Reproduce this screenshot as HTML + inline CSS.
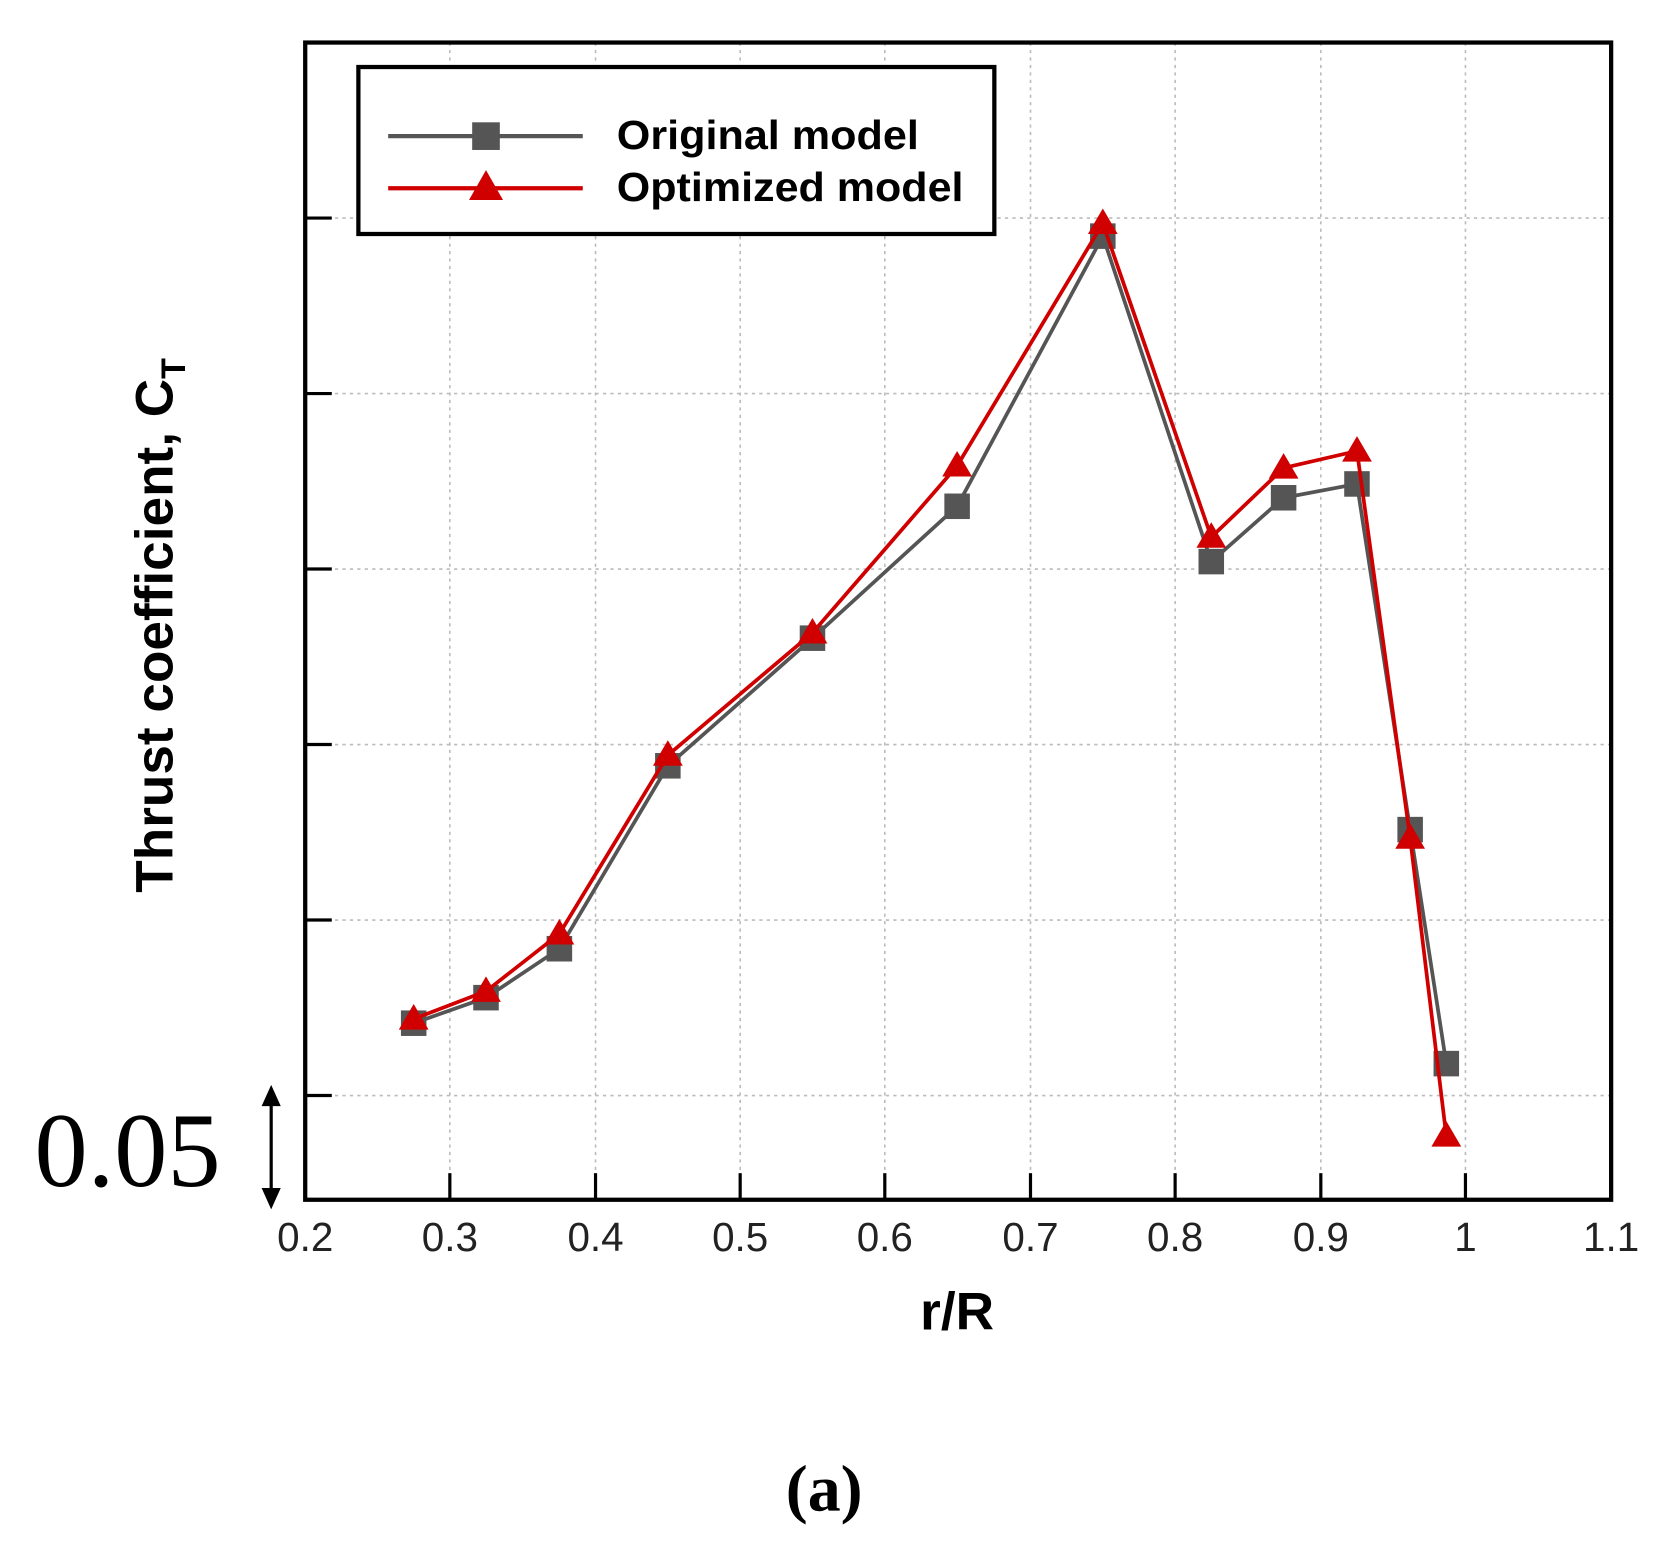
<!DOCTYPE html>
<html><head><meta charset="utf-8"><style>
html,body{margin:0;padding:0;background:#fff;}
svg{display:block;}
</style></head><body>
<svg width="1659" height="1555" viewBox="0 0 1560 1462" preserveAspectRatio="none" xmlns="http://www.w3.org/2000/svg">
<rect width="1560" height="1462" fill="#fff"/>
<g stroke="#bbb" stroke-width="1.5" stroke-dasharray="3,4">
<line x1="423" y1="40" x2="423" y2="1128"/><line x1="560" y1="40" x2="560" y2="1128"/>
<line x1="696" y1="40" x2="696" y2="1128"/><line x1="832" y1="40" x2="832" y2="1128"/>
<line x1="969" y1="40" x2="969" y2="1128"/><line x1="1105" y1="40" x2="1105" y2="1128"/>
<line x1="1242" y1="40" x2="1242" y2="1128"/><line x1="1378" y1="40" x2="1378" y2="1128"/>
<line x1="287" y1="205" x2="1515" y2="205"/><line x1="287" y1="370" x2="1515" y2="370"/>
<line x1="287" y1="535" x2="1515" y2="535"/><line x1="287" y1="700" x2="1515" y2="700"/>
<line x1="287" y1="865" x2="1515" y2="865"/><line x1="287" y1="1030" x2="1515" y2="1030"/>
</g>
<g stroke="#000" stroke-width="3">
<line x1="423" y1="1103" x2="423" y2="1128"/><line x1="560" y1="1103" x2="560" y2="1128"/>
<line x1="696" y1="1103" x2="696" y2="1128"/><line x1="832" y1="1103" x2="832" y2="1128"/>
<line x1="969" y1="1103" x2="969" y2="1128"/><line x1="1105" y1="1103" x2="1105" y2="1128"/>
<line x1="1242" y1="1103" x2="1242" y2="1128"/><line x1="1378" y1="1103" x2="1378" y2="1128"/>
<line x1="287" y1="205" x2="312" y2="205"/><line x1="287" y1="370" x2="312" y2="370"/>
<line x1="287" y1="535" x2="312" y2="535"/><line x1="287" y1="700" x2="312" y2="700"/>
<line x1="287" y1="865" x2="312" y2="865"/><line x1="287" y1="1030" x2="312" y2="1030"/>
</g>
<rect x="287" y="40" width="1228" height="1088" fill="none" stroke="#000" stroke-width="4"/>
<polyline fill="none" stroke="#555" stroke-width="3.5" points="389,962 457,938 526,892 628,720 764,600 900,476 1037,222 1139,528 1207,468 1276,455 1326,780 1360,1000"/>
<g fill="#555">
<rect x="377" y="950" width="24" height="24"/><rect x="445" y="926" width="24" height="24"/>
<rect x="514" y="880" width="24" height="24"/><rect x="616" y="708" width="24" height="24"/>
<rect x="752" y="588" width="24" height="24"/><rect x="888" y="464" width="24" height="24"/>
<rect x="1025" y="210" width="24" height="24"/><rect x="1127" y="516" width="24" height="24"/>
<rect x="1195" y="456" width="24" height="24"/><rect x="1264" y="443" width="24" height="24"/>
<rect x="1314" y="768" width="24" height="24"/><rect x="1348" y="988" width="24" height="24"/>
</g>
<polyline fill="none" stroke="#d00000" stroke-width="3.5" points="389,958 457,932 526,878 628,710 764,595 900,438 1037,210 1139,505 1207,440 1276,424 1326,788 1360,1068"/>
<g fill="#d00000">
<path d="M389,944 l14,24 h-28z"/><path d="M457,918 l14,24 h-28z"/><path d="M526,864 l14,24 h-28z"/>
<path d="M628,696 l14,24 h-28z"/><path d="M764,581 l14,24 h-28z"/><path d="M900,424 l14,24 h-28z"/>
<path d="M1037,196 l14,24 h-28z"/><path d="M1139,491 l14,24 h-28z"/><path d="M1207,426 l14,24 h-28z"/>
<path d="M1276,410 l14,24 h-28z"/><path d="M1326,774 l14,24 h-28z"/><path d="M1360,1054 l14,24 h-28z"/>
</g>
<rect x="337" y="63" width="598" height="157" fill="#fff" stroke="#000" stroke-width="4"/>
<line x1="365" y1="128" x2="548" y2="128" stroke="#555" stroke-width="4"/>
<rect x="444" y="115" width="26" height="26" fill="#555"/>
<line x1="365" y1="177" x2="548" y2="177" stroke="#d00000" stroke-width="4"/>
<path d="M457,160 l16,28 h-32z" fill="#d00000"/>
<g font-family="Liberation Sans, sans-serif" font-weight="bold" font-size="38" fill="#000">
<text x="580" y="140" textLength="284" lengthAdjust="spacingAndGlyphs">Original model</text>
<text x="580" y="189" textLength="326" lengthAdjust="spacingAndGlyphs">Optimized model</text>
</g>
<g font-family="Liberation Sans, sans-serif" font-size="38" fill="#222" text-anchor="middle">
<text x="287" y="1176">0.2</text><text x="423" y="1176">0.3</text><text x="560" y="1176">0.4</text>
<text x="696" y="1176">0.5</text><text x="832" y="1176">0.6</text><text x="969" y="1176">0.7</text>
<text x="1105" y="1176">0.8</text><text x="1242" y="1176">0.9</text><text x="1378" y="1176">1</text>
<text x="1515" y="1176">1.1</text>
</g>
<text x="900" y="1250" font-family="Liberation Sans, sans-serif" font-weight="bold" font-size="50" text-anchor="middle">r/R</text>
<text transform="translate(162,588) rotate(-90)" font-family="Liberation Sans, sans-serif" font-weight="bold" font-size="50" text-anchor="middle">Thrust coefficient, C<tspan font-size="32" dy="12">T</tspan></text>
<text x="120" y="1115" font-family="Liberation Serif, serif" font-size="100" text-anchor="middle">0.05</text>
<line x1="255" y1="1030" x2="255" y2="1128" stroke="#000" stroke-width="3"/>
<path d="M255,1020 l-9,20 h18z M255,1137 l-9,-20 h18z" fill="#000"/>
<text x="775" y="1420" font-family="Liberation Serif, serif" font-weight="bold" font-size="62" text-anchor="middle">(a)</text>
</svg>
</body></html>
